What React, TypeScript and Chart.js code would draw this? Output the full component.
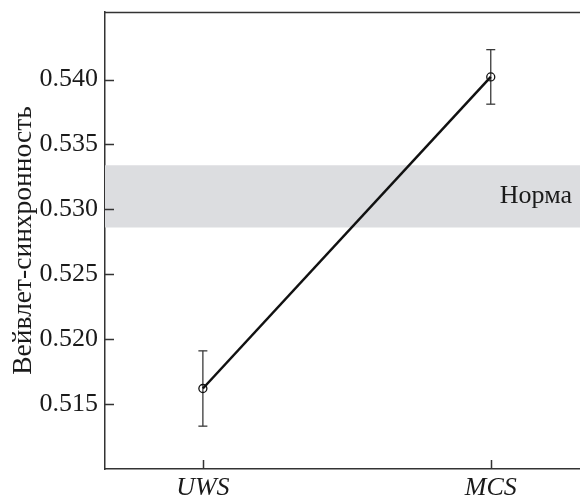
import { useEffect, useRef } from 'react';
import { Chart, registerables } from 'chart.js';
Chart.register(...registerables);

const categories = ['UWS', 'MCS'];
const means = [0.5162, 0.5402];
const errors = [0.0029, 0.0021];
const normLow = 0.5286;
const normHigh = 0.5334;
const normLabel = 'Норма';
const yTicks = [0.515, 0.52, 0.525, 0.53, 0.535, 0.54];
const yTitle = 'Вейвлет-синхронность';

const FONT = "'Liberation Serif', 'Times New Roman', serif";

export default function App() {
  const ref = useRef<HTMLCanvasElement>(null);
  useEffect(() => {
    if (!ref.current) return;
    document.body.style.margin = '0';
    const xMin = -0.34;
    const xMax = 1.31;
    const errDatasets = categories.map((c, i) => ({
      label: 'err ' + c,
      data: [
        { x: i, y: means[i] - errors[i] },
        { x: i, y: means[i] + errors[i] },
      ],
      showLine: true,
      borderColor: '#3a3a3a',
      borderWidth: 1.3,
      pointStyle: 'line',
      pointRadius: 4.5,
      pointHoverRadius: 4.5,
      pointBorderColor: '#3a3a3a',
      pointBorderWidth: 1.3,
      order: 2,
    }));
    const decor = {
      id: 'decor',
      afterDatasetsDraw(chart: any) {
        const { ctx, chartArea: a, scales } = chart;
        const x = scales.x;
        const y = scales.y;
        ctx.save();
        ctx.strokeStyle = '#333';
        ctx.lineWidth = 1.5;
        ctx.beginPath();
        ctx.moveTo(a.left, a.top + 0.5);
        ctx.lineTo(a.right, a.top + 0.5);
        for (const t of yTicks) {
          const py = Math.round(y.getPixelForValue(t)) + 0.5;
          ctx.moveTo(a.left, py);
          ctx.lineTo(a.left + 9, py);
        }
        categories.forEach((_, i) => {
          const px = Math.round(x.getPixelForValue(i)) + 0.5;
          ctx.moveTo(px, a.bottom);
          ctx.lineTo(px, a.bottom - 9);
        });
        ctx.stroke();
        ctx.fillStyle = '#1a1a1a';
        ctx.font = `26px ${FONT}`;
        ctx.textAlign = 'right';
        ctx.textBaseline = 'middle';
        ctx.fillText(normLabel, a.right - 8, y.getPixelForValue((normLow + normHigh) / 2));
        ctx.restore();
      },
    };
    const chart = new Chart(ref.current, {
      type: 'scatter',
      data: {
        datasets: [
          {
            label: 'mean',
            data: categories.map((_, i) => ({ x: i, y: means[i] })),
            showLine: true,
            borderColor: '#111',
            borderWidth: 2.5,
            pointRadius: 4,
            pointHoverRadius: 4,
            pointBackgroundColor: 'rgba(0,0,0,0)',
            pointBorderColor: '#111',
            pointBorderWidth: 1.3,
            order: 0,
          } as any,
          ...(errDatasets as any[]),
          {
            label: 'normHigh',
            data: [
              { x: xMin, y: normHigh },
              { x: xMax, y: normHigh },
            ],
            showLine: true,
            fill: '+1',
            backgroundColor: '#dcdde0',
            borderWidth: 0,
            borderColor: 'rgba(0,0,0,0)',
            pointRadius: 0,
            order: 5,
          },
          {
            label: 'normLow',
            data: [
              { x: xMin, y: normLow },
              { x: xMax, y: normLow },
            ],
            showLine: true,
            borderWidth: 0,
            borderColor: 'rgba(0,0,0,0)',
            pointRadius: 0,
            order: 5,
          },
        ],
      },
      options: {
        animation: false,
        responsive: false,
        layout: { autoPadding: false, padding: { top: 12, left: 0, right: 0, bottom: 0 } },
        plugins: { legend: { display: false }, tooltip: { enabled: false } },
        events: [],
        scales: {
          x: {
            type: 'linear',
            min: xMin,
            max: xMax,
            afterBuildTicks: (s: any) => {
              s.ticks = categories.map((_, i) => ({ value: i }));
            },
            afterFit: (s: any) => {
              s.height = 28;
              s.paddingLeft = 0;
              s.paddingRight = 0;
              s.paddingTop = 0;
              s.paddingBottom = 0;
            },
            ticks: {
              callback: (v: any) => categories[v] ?? '',
              font: { family: FONT, size: 26, style: 'italic' },
              color: '#1a1a1a',
              padding: 4,
              autoSkip: false,
              maxRotation: 0,
            },
            grid: { display: false, drawTicks: false },
            border: { display: true, color: '#333', width: 1.5 },
          },
          y: {
            type: 'linear',
            min: 0.51,
            max: 0.5452,
            afterBuildTicks: (s: any) => {
              s.ticks = yTicks.map((v) => ({ value: v }));
            },
            afterFit: (s: any) => {
              s.width = 105;
              s.paddingTop = 0;
              s.paddingBottom = 0;
              s.paddingLeft = 0;
              s.paddingRight = 0;
            },
            ticks: {
              callback: (v: any) => Number(v).toFixed(3),
              font: { family: FONT, size: 26 },
              color: '#1a1a1a',
              padding: 7,
            },
            grid: { display: false, drawTicks: false },
            border: { display: true, color: '#333', width: 1.5 },
            title: {
              display: true,
              text: yTitle,
              font: { family: FONT, size: 27.5 },
              color: '#1a1a1a',
              padding: { top: 7, bottom: 0 },
            },
          },
        },
      },
      plugins: [decor],
    } as any);
    return () => chart.destroy();
  }, []);
  return (
    <div style={{ width: 580, height: 497 }}>
      <canvas ref={ref} width={580} height={497} style={{ display: 'block' }} />
    </div>
  );
}
